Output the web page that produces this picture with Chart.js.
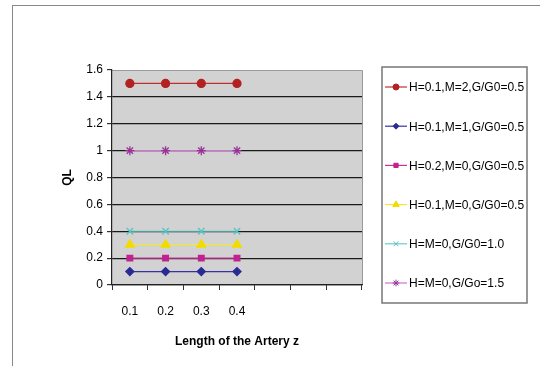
<!DOCTYPE html>
<html>
<head>
<meta charset="utf-8">
<script src="https://cdn.jsdelivr.net/npm/chart.js@4"></script>
<style>
  html, body { margin: 0; padding: 0; background: #fff; }
  #wrap { position: relative; width: 540px; height: 366px; }
  #frame { position: absolute; left: 12px; top: 5px; width: 540px; height: 380px;
           border-left: 1px solid #888; border-top: 1px solid #888; }
  canvas { position: absolute; left: 0; top: 0; }
</style>
</head>
<body>
<div id="wrap">
  <div id="frame"></div>
  <canvas id="c" width="540" height="366"></canvas>
</div>
<script>
// x categories (only first four carry values)
var zLabels = ['0.1', '0.2', '0.3', '0.4', '', '', ''];

var names = [
  'H=0.1,M=2,G/G0=0.5',
  'H=0.1,M=1,G/G0=0.5',
  'H=0.2,M=0,G/G0=0.5',
  'H=0.1,M=0,G/G0=0.5',
  'H=M=0,G/G0=1.0',
  'H=M=0,G/Go=1.5'
];

var qlM2  = [1.5, 1.5, 1.5, 1.5];
var qlM1  = [0.1, 0.1, 0.1, 0.1];
var qlH02 = [0.2, 0.2, 0.2, 0.2];
var qlH01 = [0.3, 0.3, 0.3, 0.3];
var qlG1  = [0.4, 0.4, 0.4, 0.4];
var qlG15 = [1.0, 1.0, 1.0, 1.0];

var FONT = '"Liberation Sans", Arial, sans-serif';

function ds(label, data, line, marker, style, r) {
  return {
    label: label, data: data,
    borderColor: line, borderWidth: 1.2,
    pointStyle: style, pointRadius: r, pointHoverRadius: r,
    pointBackgroundColor: marker, pointBorderColor: marker, pointBorderWidth: 1.3,
    fill: false, tension: 0
  };
}

var plotBg = {
  id: 'plotBg',
  beforeDraw: function(chart) {
    var a = chart.chartArea, ctx = chart.ctx;
    ctx.save();
    ctx.fillStyle = '#D2D2D2';
    ctx.fillRect(a.left, a.top, a.right - a.left, a.bottom - a.top);
    ctx.strokeStyle = '#9a9a9a';
    ctx.lineWidth = 1;
    ctx.beginPath();
    ctx.moveTo(a.left, a.top + 0.5); ctx.lineTo(a.right + 0.5, a.top + 0.5);
    ctx.lineTo(a.right + 0.5, a.bottom);
    ctx.stroke();
    ctx.restore();
  }
};

// boxed legend, Excel style
var boxLegend = {
  id: 'boxLegend',
  afterDraw: function(chart) {
    var ctx = chart.ctx;
    ctx.save();
    ctx.strokeStyle = '#777';
    ctx.lineWidth = 1.5;
    ctx.strokeRect(382, 67, 145, 236);
    ctx.font = '12px ' + FONT;
    ctx.textBaseline = 'middle';
    chart.data.datasets.forEach(function(d, i) {
      var y = 87 + i * 39.2;
      ctx.strokeStyle = d.borderColor;
      ctx.lineWidth = 1.2;
      ctx.beginPath(); ctx.moveTo(385, y); ctx.lineTo(407, y); ctx.stroke();
      ctx.fillStyle = d.pointBackgroundColor;
      ctx.strokeStyle = d.pointBorderColor;
      ctx.lineWidth = 1;
      Chart.helpers.drawPoint(ctx, { pointStyle: d.pointStyle, radius: d.pointRadius * 0.75, borderWidth: 1 }, 396, y);
      ctx.fillStyle = '#000';
      ctx.fillText(d.label, 409, y + 1);
    });
    ctx.restore();
  }
};

new Chart(document.getElementById('c'), {
  type: 'line',
  data: {
    labels: zLabels,
    datasets: [
      ds(names[0], qlM2,  '#C03030', '#B22222', 'circle', 4),
      ds(names[1], qlM1,  '#34349E', '#2A2A95', 'rectRot', 4),
      ds(names[2], qlH02, '#CC3399', '#C0228F', 'rect', 4),
      ds(names[3], qlH01, '#F5E630', '#F2DC00', 'triangle', 5),
      ds(names[4], qlG1,  '#66CCCC', '#55C4C4', 'crossRot', 4.5),
      ds(names[5], qlG15, '#CC77CC', '#993399', 'star', 4.5)
    ]
  },
  options: {
    responsive: false,
    animation: false,
    events: [],
    layout: { padding: { left: 60, top: 70, right: 178, bottom: 16 } },
    plugins: { legend: { display: false }, tooltip: { enabled: false } },
    scales: {
      x: {
        offset: true,
        grid: { offset: true, drawOnChartArea: false, drawTicks: true, tickLength: 5, color: '#333' },
        border: { color: '#222', width: 1.2 },
        ticks: { color: '#000', padding: 14, maxRotation: 0, autoSkip: false,
                 font: { family: FONT, size: 12 } },
        title: { display: true, text: 'Length of the Artery z', color: '#000',
                 padding: { top: 0, bottom: 1 },
                 font: { family: FONT, size: 12, weight: 'bold' } },
        afterFit: function(s) { s.height = 65; }
      },
      y: {
        min: 0, max: 1.6,
        grid: {
          color: function(c) { return c.tick && c.tick.value >= 1.6 ? 'rgba(0,0,0,0)' : '#1a1a1a'; },
          lineWidth: 1.2, tickLength: 5, tickColor: '#333'
        },
        border: { color: '#222', width: 1.2 },
        ticks: { stepSize: 0.2, color: '#000', padding: 4,
                 font: { family: FONT, size: 12 },
                 callback: function(v) { return String(Math.round(v * 10) / 10); } },
        title: { display: true, text: 'QL', color: '#000', padding: { top: 0, bottom: 0 },
                 font: { family: FONT, size: 12, weight: 'bold' } },
        afterFit: function(s) { s.width = 52; }
      }
    }
  },
  plugins: [plotBg, boxLegend]
});
</script>
</body>
</html>
